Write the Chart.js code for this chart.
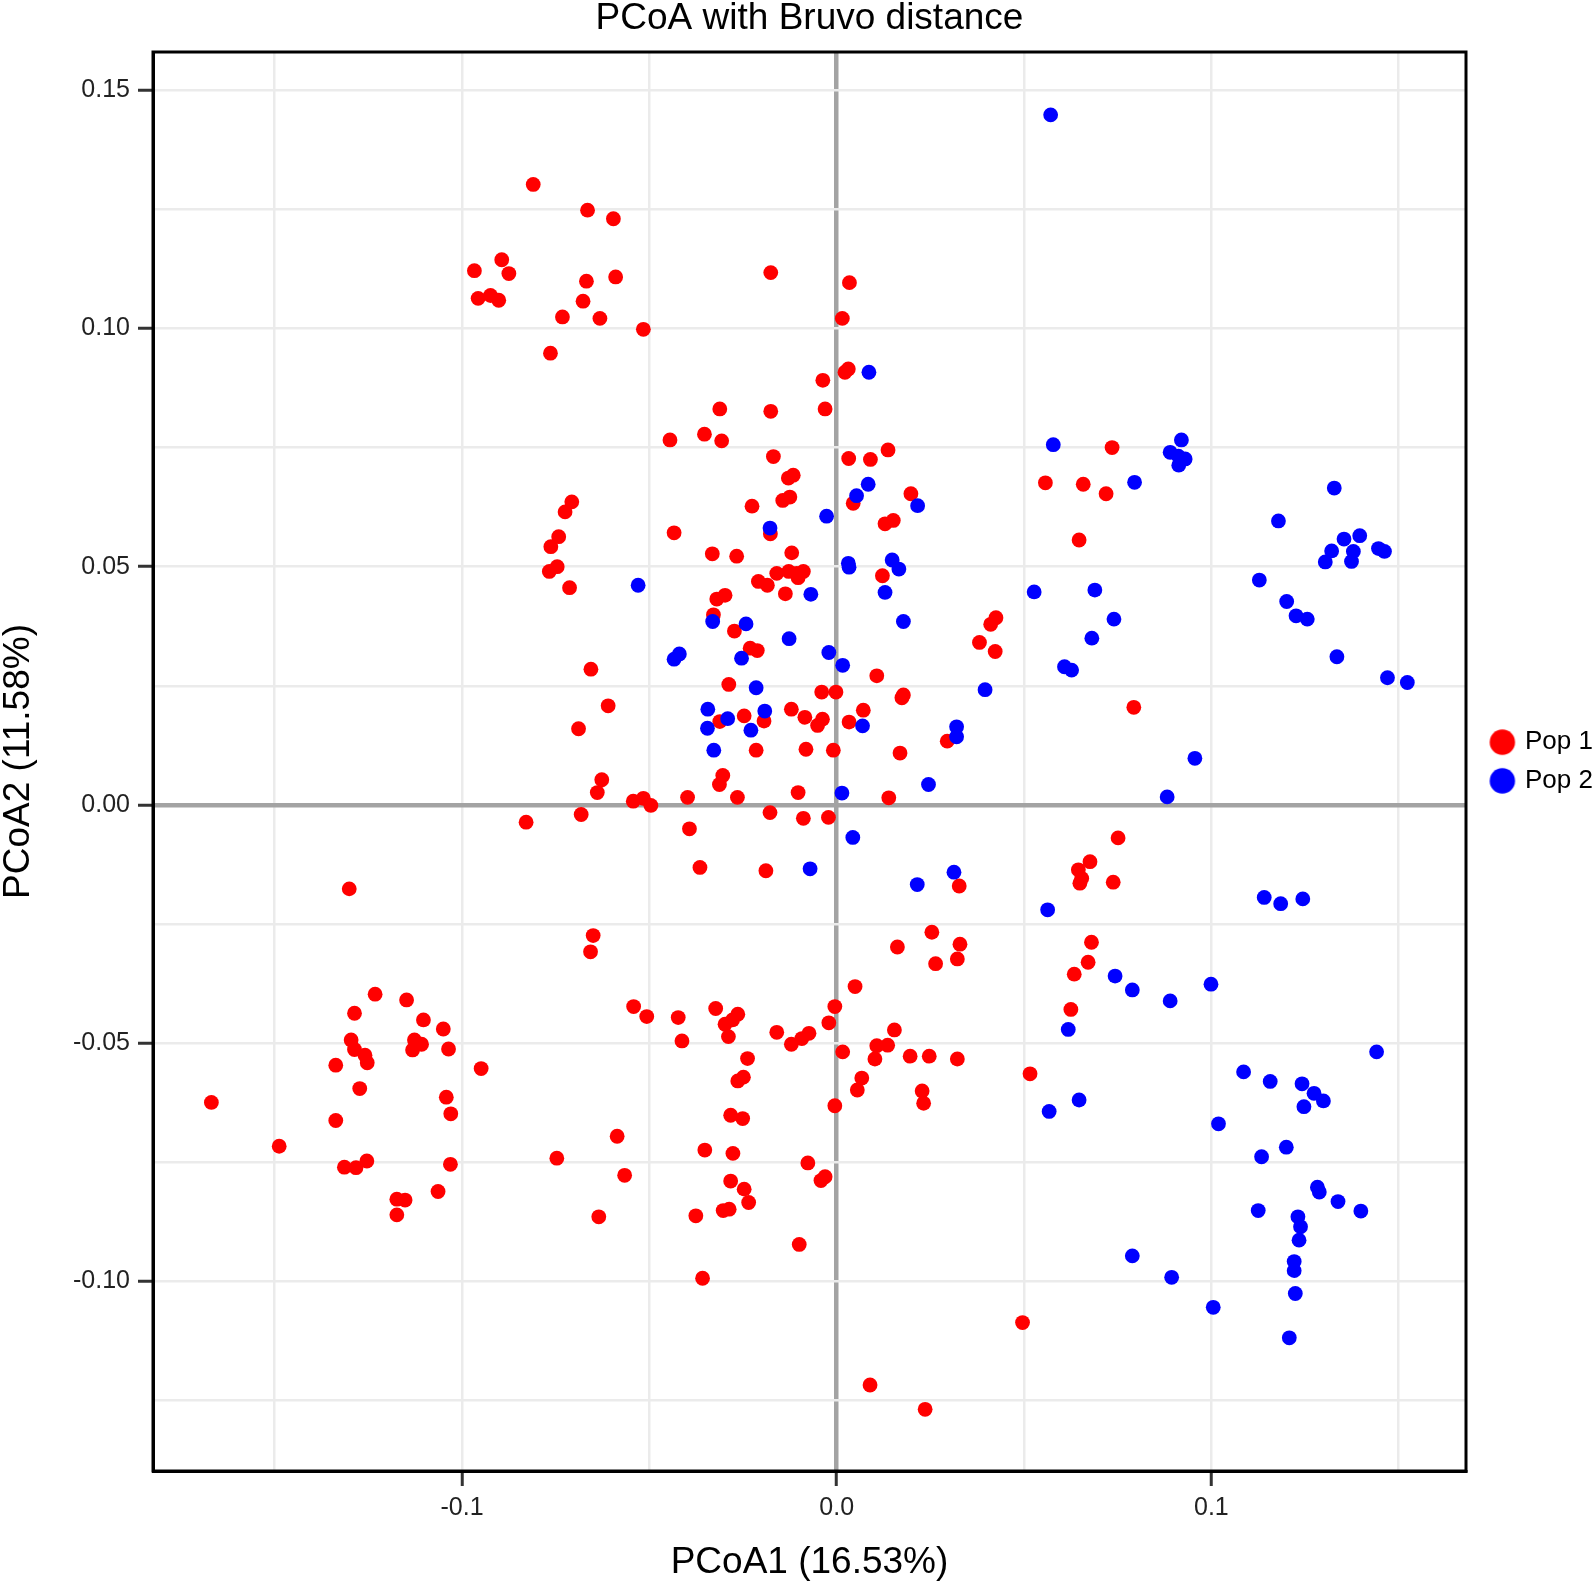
<!DOCTYPE html>
<html><head><meta charset="utf-8">
<script src="https://cdn.jsdelivr.net/npm/chart.js@4.4.1/dist/chart.umd.min.js"></script>
<style>html,body{margin:0;padding:0;background:#fff;overflow:hidden}canvas{display:block}</style>
</head><body>
<canvas id="c" width="1594" height="1585"></canvas>
<script>
// ---------- data ----------
const chartTitle = 'PCoA with Bruvo distance';
const xAxisTitle = 'PCoA1 (16.53%)';
const yAxisTitle = 'PCoA2 (11.58%)';
const seriesNames = ['Pop 1', 'Pop 2'];
const seriesColors = ['#ff0000', '#0000ff'];
const xTickLabels = ['-0.1', '0.0', '0.1'];
const yTickLabels = ['-0.10', '-0.05', '0.00', '0.05', '0.10', '0.15'];

const pop1X = [-0.0810,-0.0665,-0.0894,-0.0967,-0.0875,-0.0668,-0.0957,-0.0924,-0.0902,-0.0677,-0.0732,-0.0632,-0.0764,-0.0707,-0.0725,
-0.0596,-0.0590,-0.0516,-0.0176,0.0034,0.0015,0.0031,0.0022,-0.0037,-0.0031,-0.0176,-0.0312,-0.0445,-0.0353,-0.0307,-0.0169,-0.0116,-0.0129,-0.0226,-0.0125,-0.0144,0.0032,0.0090,0.0137,0.0044,0.0198,0.0557,0.0129,0.0151,
0.0735,0.0658,0.0719,
-0.0742,-0.0763,-0.0746,-0.0767,-0.0713,-0.0656,-0.0689,-0.0627,-0.0639,-0.0829,-0.0682,-0.1301,-0.0650,-0.0657,
-0.0434,-0.0177,-0.0332,-0.0267,-0.0120,-0.0160,-0.0128,-0.0107,-0.0089,-0.0103,-0.0209,-0.0185,-0.0137,-0.0320,-0.0298,-0.0329,-0.0273,-0.0231,-0.0212,0.0122,0.0425,0.0411,0.0381,0.0423,0.0107,-0.0288,-0.0610,-0.0040,-0.0002,0.0178,0.0174,-0.0312,-0.0247,-0.0194,-0.0121,-0.0085,-0.0038,-0.0051,0.0033,0.0071,-0.0215,-0.0082,-0.0009,0.0169,0.0295,-0.0304,-0.0313,-0.0543,-0.0516,-0.0496,-0.0398,-0.0265,-0.0103,0.0139,-0.0178,-0.0089,-0.0022,-0.0393,-0.0365,-0.0189,0.0327,0.0254,0.0162,0.0329,0.0264,0.0322,0.0049,
0.0647,0.0793,0.0751,0.0676,0.0645,0.0654,0.0649,0.0738,0.0680,0.0671,0.0634,
-0.1232,-0.1148,-0.1287,-0.1103,-0.1050,-0.1296,-0.1287,-0.1259,-0.1253,-0.1127,-0.1108,-0.1132,-0.1036,-0.1337,-0.0949,-0.1273,-0.1042,-0.1030,-0.1669,-0.1337,-0.1488,-0.1314,-0.1283,-0.1254,-0.1031,-0.1064,-0.1174,-0.1152,-0.1174,-0.0747,-0.0635,
-0.0542,-0.0507,-0.0423,-0.0413,-0.0323,-0.0264,-0.0278,-0.0298,-0.0289,-0.0160,-0.0121,-0.0093,-0.0074,-0.0021,-0.0005,0.0016,0.0154,0.0107,0.0136,0.0102,0.0196,0.0247,0.0322,0.0516,-0.0238,-0.0249,-0.0264,0.0067,0.0055,-0.0005,0.0228,0.0232,-0.0283,-0.0251,-0.0586,-0.0352,-0.0277,-0.0566,-0.0077,-0.0031,-0.0042,-0.0283,-0.0247,-0.0235,-0.0287,-0.0303,-0.0376,-0.0100,-0.0358,0.0496,0.0089,0.0236,
0.0625];
const pop1Y = [0.1302,0.1248,0.1144,0.1121,0.1115,0.1099,0.1063,0.1069,0.1059,0.1057,0.1024,0.1021,0.0948,0.0636,0.0615,
0.1230,0.1108,0.0998,0.1117,0.1096,0.1021,0.0915,0.0908,0.0891,0.0831,0.0826,0.0831,0.0766,0.0778,0.0764,0.0731,0.0692,0.0686,0.0627,0.0646,0.0639,0.0727,0.0725,0.0745,0.0633,0.0653,0.0676,0.0590,0.0597,
0.0750,0.0673,0.0653,
0.0563,0.0542,0.0500,0.0490,0.0456,0.0285,0.0160,0.0053,0.0026,-0.0036,-0.0020,-0.0176,-0.0274,-0.0308,
0.0571,0.0569,0.0527,0.0522,0.0529,0.0486,0.0490,0.0486,0.0490,0.0477,0.0469,0.0461,0.0443,0.0432,0.0440,0.0399,0.0365,0.0329,0.0324,0.0481,0.0393,0.0379,0.0341,0.0322,0.0271,0.0253,0.0208,0.0237,0.0237,0.0231,0.0225,0.0175,0.0187,0.0176,0.0201,0.0184,0.0180,0.0167,0.0174,0.0199,0.0115,0.0117,0.0115,0.0109,0.0134,0.0062,0.0043,0.0008,0.0014,-0.0001,0.0016,0.0016,0.0026,0.0015,-0.0016,-0.0028,-0.0026,-0.0050,-0.0131,-0.0138,-0.0170,-0.0267,-0.0298,-0.0292,-0.0333,-0.0323,-0.0381,
0.0556,0.0205,-0.0069,-0.0119,-0.0136,-0.0154,-0.0164,-0.0162,-0.0288,-0.0330,-0.0355,
-0.0397,-0.0409,-0.0437,-0.0451,-0.0470,-0.0493,-0.0513,-0.0525,-0.0541,-0.0493,-0.0502,-0.0514,-0.0512,-0.0546,-0.0553,-0.0595,-0.0613,-0.0648,-0.0624,-0.0662,-0.0716,-0.0760,-0.0761,-0.0747,-0.0754,-0.0811,-0.0827,-0.0829,-0.0860,-0.0741,-0.0864,
-0.0423,-0.0444,-0.0446,-0.0495,-0.0427,-0.0439,-0.0451,-0.0460,-0.0486,-0.0477,-0.0502,-0.0490,-0.0479,-0.0457,-0.0423,-0.0518,-0.0472,-0.0505,-0.0504,-0.0533,-0.0527,-0.0527,-0.0533,-0.0564,-0.0532,-0.0571,-0.0579,-0.0573,-0.0598,-0.0631,-0.0600,-0.0626,-0.0651,-0.0658,-0.0695,-0.0724,-0.0731,-0.0777,-0.0751,-0.0780,-0.0788,-0.0789,-0.0806,-0.0834,-0.0848,-0.0851,-0.0862,-0.0922,-0.0993,-0.1086,-0.1217,-0.1268,
-0.0429];

const pop2X = [0.0086,0.0084,0.0053,0.0216,-0.0027,0.0571,0.0578,0.0795,0.0920,0.0890,0.0930,0.0913,0.0912,0.1328,0.1179,
-0.0178,0.0031,0.0033,0.0148,0.0166,-0.0069,-0.0530,0.0129,0.0178,0.0527,-0.0331,-0.0242,-0.0127,-0.0254,-0.0420,-0.0434,-0.0021,0.0016,0.0396,-0.0215,-0.0344,-0.0345,-0.0291,-0.0192,-0.0229,0.0069,-0.0328,0.0320,0.0320,0.0245,0.0014,0.0043,-0.0071,0.0215,0.0313,
0.0689,0.0740,0.0681,0.0608,0.0627,0.0956,0.0882,0.1128,0.1201,0.1226,0.1256,0.1335,0.1470,0.1523,0.1354,0.1396,0.1321,0.1379,0.1304,0.1374,0.1446,0.1462,0.0563,0.1141,0.1185,0.1244,0.0743,0.0789,0.0999,
0.0890,0.0618,0.1441,0.1086,0.1157,0.1242,0.1274,0.1299,0.1247,0.0647,0.0567,0.1019,0.1200,0.1134,0.1283,0.1288,0.1338,0.1399,0.1125,0.1231,0.1238,0.1234,0.1221,0.1221,0.1224,0.1208,0.0789,0.0894,0.1005];
const pop2Y = [0.0908,0.0673,0.0649,0.0628,0.0606,0.1448,0.0756,0.0677,0.0766,0.0740,0.0726,0.0713,0.0732,0.0665,0.0596,
0.0581,0.0507,0.0499,0.0514,0.0495,0.0442,0.0461,0.0446,0.0385,0.0447,0.0385,0.0380,0.0349,0.0308,0.0317,0.0306,0.0320,0.0293,0.0242,0.0246,0.0201,0.0161,0.0181,0.0197,0.0157,0.0166,0.0115,0.0164,0.0143,0.0043,0.0025,-0.0068,-0.0134,-0.0167,-0.0141,
0.0451,0.0390,0.0350,0.0290,0.0283,0.0098,0.0017,0.0472,0.0427,0.0397,0.0390,0.0311,0.0267,0.0257,0.0558,0.0565,0.0533,0.0532,0.0510,0.0511,0.0538,0.0532,-0.0220,-0.0194,-0.0207,-0.0197,-0.0359,-0.0388,-0.0376,
-0.0411,-0.0471,-0.0518,-0.0560,-0.0580,-0.0585,-0.0605,-0.0621,-0.0633,-0.0619,-0.0643,-0.0669,-0.0718,-0.0738,-0.0802,-0.0812,-0.0832,-0.0852,-0.0851,-0.0864,-0.0885,-0.0913,-0.0958,-0.0977,-0.1025,-0.1118,-0.0946,-0.0991,-0.1054];

// ---------- chart ----------
const FONT = "'Liberation Sans', Arial, Helvetica, sans-serif";
Chart.defaults.font.family = FONT;

const toPoints = (xs, ys) => xs.map((x, i) => ({x: x, y: ys[i]}));
const isZero = v => Math.abs(v) < 1e-9;
const isMultiple = (v, step) => Math.abs(v / step - Math.round(v / step)) < 1e-6;

function legendDot(color) {
  const c = document.createElement('canvas');
  c.width = 42; c.height = 28;
  const g = c.getContext('2d');
  g.fillStyle = color;
  g.beginPath(); g.arc(28, 14, 12.7, 0, Math.PI * 2); g.fill();
  return c;
}
const legendDots = seriesColors.map(legendDot);

const panelBorder = {
  id: 'panelBorder',
  afterDatasetsDraw(chart) {
    const {ctx, chartArea: a} = chart;
    ctx.save();
    ctx.strokeStyle = '#000';
    ctx.lineWidth = 3;
    ctx.strokeRect(a.left, a.top, a.right - a.left, a.bottom - a.top);
    ctx.restore();
  }
};

function gridOpts(isMajor) {
  return {
    drawOnChartArea: true,
    drawTicks: true,
    tickLength: 15,
    color: ctx => (ctx.tick && isZero(ctx.tick.value)) ? '#a3a3a3' : '#ebebeb',
    lineWidth: ctx => (ctx.tick && isZero(ctx.tick.value)) ? 4.5 : 2.5,
    tickColor: ctx => (ctx.tick && isMajor(ctx.tick.value)) ? '#333333' : 'rgba(0,0,0,0)',
    tickWidth: 3
  };
}

new Chart(document.getElementById('c'), {
  type: 'scatter',
  data: {
    datasets: [
      { label: seriesNames[0], data: toPoints(pop1X, pop1Y), backgroundColor: seriesColors[0], borderColor: seriesColors[0], order: 1 },
      { label: seriesNames[1], data: toPoints(pop2X, pop2Y), backgroundColor: seriesColors[1], borderColor: seriesColors[1], order: 0 }
    ]
  },
  options: {
    responsive: false,
    devicePixelRatio: 1,
    animation: false,
    events: [],
    layout: { padding: 0 },
    elements: { point: { radius: 7.4, hoverRadius: 7.4, borderWidth: 0, pointStyle: 'circle' } },
    plugins: {
      tooltip: { enabled: false },
      title: {
        display: true, text: chartTitle, color: '#000', fullSize: false,
        font: { family: FONT, size: 37, weight: 'normal', lineHeight: 0.9 },
        padding: { top: 2, bottom: 16.7 }
      },
      legend: {
        display: true, position: 'right', align: 'center', fullSize: false, maxWidth: 128,
        labels: {
          usePointStyle: true, pointStyleWidth: 33.3, padding: 12.7, color: '#000',
          font: { family: FONT, size: 26 },
          sort: (a, b) => a.datasetIndex - b.datasetIndex,
          generateLabels(chart) {
            const items = Chart.defaults.plugins.legend.labels.generateLabels(chart);
            items.forEach(it => { it.pointStyle = legendDots[it.datasetIndex]; it.lineWidth = 0; });
            return items;
          }
        }
      }
    },
    scales: {
      x: {
        type: 'linear', position: 'bottom',
        min: -0.18248, max: 0.16796,
        afterFit(s) { s.height = 114; },
        border: { display: true, color: '#000', width: 3 },
        grid: gridOpts(v => isMultiple(v, 0.1)),
        ticks: {
          stepSize: 0.05, includeBounds: false, autoSkip: false, maxRotation: 0, minRotation: 0,
          padding: 10, color: '#222', font: { family: FONT, size: 25, lineHeight: 1 },
          callback(v) {
            if (!isMultiple(v, 0.1)) return '';
            const s = (Math.abs(v) < 1e-9 ? 0 : v).toFixed(1);
            return xTickLabels.includes(s) ? s : '';
          }
        },
        title: { display: true, text: xAxisTitle, color: '#000', font: { family: FONT, size: 37, lineHeight: 1 }, padding: { top: 0, bottom: 3.5 } }
      },
      y: {
        type: 'linear', position: 'left',
        min: -0.13974, max: 0.15799,
        afterFit(s) { s.width = 153; },
        border: { display: true, color: '#000', width: 3 },
        grid: gridOpts(v => isMultiple(v, 0.05)),
        ticks: {
          stepSize: 0.025, includeBounds: false, autoSkip: false,
          padding: 8, color: '#222', font: { family: FONT, size: 25, lineHeight: 1 },
          callback(v) {
            if (!isMultiple(v, 0.05)) return '';
            const s = (Math.abs(v) < 1e-9 ? 0 : v).toFixed(2);
            return yTickLabels.includes(s) ? s : '';
          }
        },
        title: { display: true, text: yAxisTitle, color: '#000', font: { family: FONT, size: 37, lineHeight: 1 }, padding: { top: 0, bottom: 0 } }
      }
    }
  },
  plugins: [panelBorder]
});
</script>
</body></html>
